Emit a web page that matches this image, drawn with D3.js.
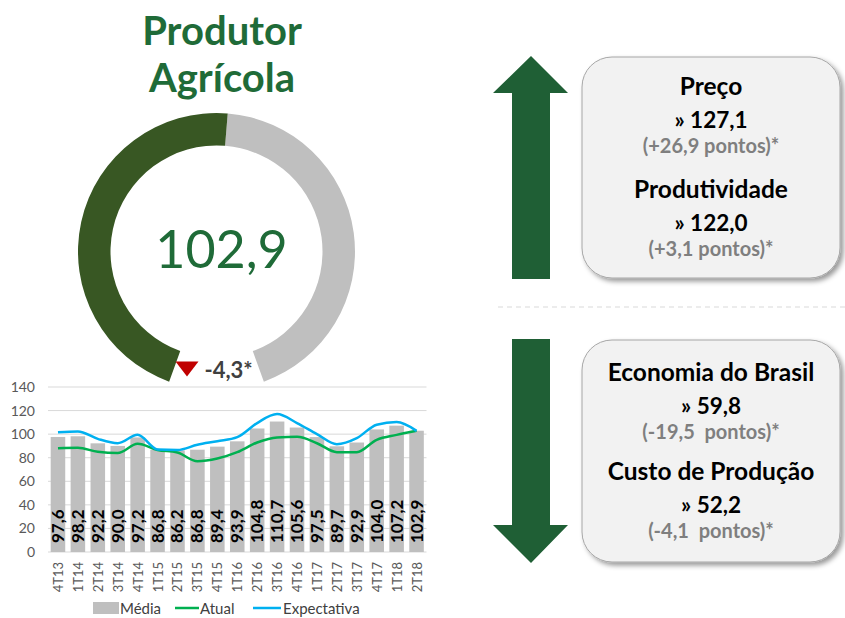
<!DOCTYPE html>
<html>
<head>
<meta charset="utf-8">
<script src="https://cdn.jsdelivr.net/npm/d3@7"></script>
<style>
  body { margin: 0; background: #fff; }
  svg { display: block; font-family: Lato, "Open Sans", sans-serif; }
</style>
</head>
<body>
<div id="chart"></div>
<script>
// --- data ---
const periods = ["4T13","1T14","2T14","3T14","4T14","1T15","2T15","3T15","4T15","1T16","2T16","3T16","4T16","1T17","2T17","3T17","4T17","1T18","2T18"];
const media = [97.6, 98.2, 92.2, 90.0, 97.2, 86.8, 86.2, 86.8, 89.4, 93.9, 104.8, 110.7, 105.6, 97.5, 89.7, 92.9, 104.0, 107.2, 102.9];
const atual = [88.1, 88.4, 85.0, 84.0, 91.8, 86.6, 84.4, 77.0, 79.3, 84.7, 92.9, 97.2, 97.7, 92.3, 84.7, 84.7, 95.2, 99.4, 102.9];
const expectativa = [101.7, 102.3, 96.0, 92.3, 99.4, 87.0, 86.6, 91.0, 94.0, 97.4, 109.4, 117.0, 109.4, 100.0, 91.5, 96.6, 108.0, 110.2, 102.8];
const yTicks = [0, 20, 40, 60, 80, 100, 120, 140];
const seriesNames = ["Média", "Atual", "Expectativa"];

const titleLines = ["Produtor", "Agrícola"];
const gaugeValue = 102.9;
const gaugeMax = 200;
const gaugeChange = "-4,3*";

const upFactors = [
  {name: "Preço", value: "» 127,1", change: "(+26,9 pontos)*"},
  {name: "Produtividade", value: "» 122,0", change: "(+3,1 pontos)*"}
];
const downFactors = [
  {name: "Economia do Brasil", value: "» 59,8", change: "(-19,5  pontos)*"},
  {name: "Custo de Produção", value: "» 52,2", change: "(-4,1  pontos)*"}
];

const fmt = v => d3.format(".1f")(v).replace(".", ",");

const W = 845, H = 618;
const svg = d3.select("#chart").append("svg")
    .attr("width", W)
    .attr("height", H);

const defs = svg.append("defs");
defs.append("filter").attr("id", "shadow")
    .attr("x", "-10%").attr("y", "-10%").attr("width", "125%").attr("height", "125%")
  .append("feDropShadow")
    .attr("dx", 3).attr("dy", 3).attr("stdDeviation", 2.5)
    .attr("flood-color", "#000").attr("flood-opacity", 0.4);

// --- title ---
svg.append("g").selectAll("text")
  .data(titleLines)
  .enter().append("text")
    .attr("x", 222)
    .attr("y", (d, i) => 45 + i * 47)
    .attr("text-anchor", "middle")
    .style("font-size", "40px")
    .style("font-weight", "bold")
    .style("fill", "#1f6b38")
    .text(d => d);

// --- gauge ---
const gcx = 216.5, gcy = 251.5;
const angle = d3.scaleLinear().domain([0, gaugeMax]).range([-160 * Math.PI / 180, 160 * Math.PI / 180]);
const arcGen = d3.arc().innerRadius(106).outerRadius(138.5);
const gauge = svg.append("g").attr("transform", "translate(" + gcx + "," + gcy + ")");
gauge.append("path")
    .attr("d", arcGen({startAngle: angle(gaugeValue), endAngle: angle(gaugeMax)}))
    .style("fill", "#bfbfbf");
gauge.append("path")
    .attr("d", arcGen({startAngle: angle(0), endAngle: angle(gaugeValue)}))
    .style("fill", "#385723");
gauge.append("text")
    .attr("x", 5).attr("y", 16)
    .attr("text-anchor", "middle")
    .style("font-size", "52px")
    .style("fill", "#1f6b38")
    .text(fmt(gaugeValue));
gauge.append("path")
    .attr("d", "M-41,110 L-18,110 L-29.5,125 Z")
    .style("fill", "#c00000");
gauge.append("text")
    .attr("x", -12).attr("y", 126)
    .style("font-size", "22px")
    .style("font-weight", "bold")
    .style("fill", "#404040")
    .text(gaugeChange);

// --- bar + line chart ---
const x = d3.scaleBand().domain(periods).range([48, 426.5]).paddingInner(0.27).paddingOuter(0.135);
const y = d3.scaleLinear().domain([0, 140]).range([552, 387]);

const chart = svg.append("g");
chart.append("g").selectAll("line")
  .data(yTicks)
  .enter().append("line")
    .attr("x1", 48).attr("x2", 426.5)
    .attr("y1", d => y(d)).attr("y2", d => y(d))
    .style("stroke", "#d9d9d9")
    .style("stroke-width", 1);

const yAxis = chart.append("g")
    .attr("transform", "translate(35,0)")
    .call(d3.axisLeft(y).tickValues(yTicks).tickSize(0).tickPadding(0));
yAxis.select(".domain").remove();
yAxis.selectAll("text")
    .style("font-family", "Lato, sans-serif")
    .style("font-size", "14px")
    .style("fill", "#595959");

chart.append("g").selectAll("rect")
  .data(media)
  .enter().append("rect")
    .attr("x", (d, i) => x(periods[i]))
    .attr("width", x.bandwidth())
    .attr("y", d => y(d))
    .attr("height", d => y(0) - y(d))
    .style("fill", "#bfbfbf");

chart.append("g").selectAll("text")
  .data(media)
  .enter().append("text")
    .attr("transform", (d, i) => "translate(" + (x(periods[i]) + x.bandwidth() / 2 + 6) + ",543) rotate(-90)")
    .style("font-size", "17px")
    .style("font-weight", "bold")
    .style("fill", "#000")
    .text(d => fmt(d));

const xAxis = chart.append("g")
    .attr("transform", "translate(0,552)")
    .call(d3.axisBottom(x).tickSize(0).tickPadding(0));
xAxis.select(".domain").remove();
xAxis.selectAll("text")
    .attr("transform", "translate(5,10) rotate(-90)")
    .attr("dy", "0")
    .attr("text-anchor", "end")
    .style("font-family", "Lato, sans-serif")
    .style("font-size", "13px")
    .style("fill", "#595959");

const line = d3.line()
    .x((d, i) => x(periods[i]) + x.bandwidth() / 2)
    .y(d => y(d))
    .curve(d3.curveMonotoneX);

chart.append("path")
    .datum(atual)
    .attr("d", line)
    .style("fill", "none")
    .style("stroke", "#00b050")
    .style("stroke-width", 2.5);
chart.append("path")
    .datum(expectativa)
    .attr("d", line)
    .style("fill", "none")
    .style("stroke", "#00b0f0")
    .style("stroke-width", 2.5);

// legend
const legend = chart.append("g").style("font-size", "15px");
const legX = [93, 175, 253];
legend.append("rect").attr("x", legX[0]).attr("y", 602).attr("width", 26).attr("height", 12).style("fill", "#bfbfbf");
legend.append("line").attr("x1", legX[1]).attr("x2", legX[1] + 24).attr("y1", 608).attr("y2", 608)
    .style("stroke", "#00b050").style("stroke-width", 2.5);
legend.append("line").attr("x1", legX[2]).attr("x2", legX[2] + 28).attr("y1", 608).attr("y2", 608)
    .style("stroke", "#00b0f0").style("stroke-width", 2.5);
legend.selectAll("text")
  .data(seriesNames)
  .enter().append("text")
    .attr("x", (d, i) => legX[i] + [27, 25, 30][i])
    .attr("y", 614)
    .style("fill", "#404040")
    .text(d => d);

// --- right side: arrows and boxes ---
const arrowColor = "#1f5f35";
svg.append("path")
    .attr("d", "M531,56 L568,93 L550,93 L550,279 L512,279 L512,93 L493,93 Z")
    .style("fill", arrowColor);
svg.append("path")
    .attr("d", "M512,339 L550,339 L550,525 L568,525 L531,563 L493,525 L512,525 Z")
    .style("fill", arrowColor);

svg.append("line")
    .attr("x1", 498).attr("x2", 845).attr("y1", 307).attr("y2", 307)
    .style("stroke", "#d9d9d9").style("stroke-width", 1)
    .style("stroke-dasharray", "5,4");

function drawBox(y0, h, items, offs) {
  const g = svg.append("g");
  g.append("rect")
      .attr("x", 582).attr("y", y0).attr("width", 258).attr("height", h)
      .attr("rx", 30).attr("ry", 30)
      .style("fill", "#f2f2f2")
      .style("stroke", "#a6a6a6").style("stroke-width", 1)
      .attr("filter", "url(#shadow)");
  items.forEach((it, i) => {
    const base = y0 + offs[i];
    g.append("text").attr("x", 711).attr("y", base).attr("text-anchor", "middle")
        .style("font-size", "24.5px").style("font-weight", "bold").style("fill", "#000")
        .text(it.name);
    g.append("text").attr("x", 711).attr("y", base + 33).attr("text-anchor", "middle")
        .style("font-size", "22.5px").style("font-weight", "bold").style("fill", "#000")
        .text(it.value);
    g.append("text").attr("x", 711).attr("y", base + 58).attr("text-anchor", "middle")
        .style("font-size", "20px").style("font-weight", "bold").style("fill", "#7f7f7f")
        .style("white-space", "pre")
        .text(it.change);
  });
}
drawBox(57, 221, upFactors, [38, 141]);
drawBox(340, 222, downFactors, [41, 140]);
</script>
</body>
</html>
